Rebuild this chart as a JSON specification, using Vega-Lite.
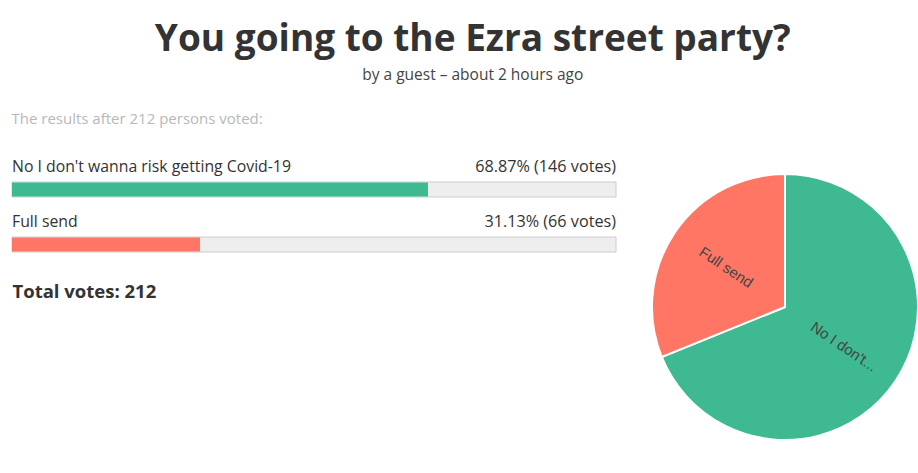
{
  "$schema": "https://vega.github.io/schema/vega-lite/v6.json",
  "padding": {"left": 11, "right": 0, "top": 20, "bottom": 0},
  "background": "#ffffff",
  "config": {"view": {"stroke": null}},
  "title": {
    "text": "You going to the Ezra street party?",
    "subtitle": "by a guest – about 2 hours ago",
    "anchor": "middle",
    "dx": 6,
    "font": "Open Sans",
    "fontSize": 37,
    "fontWeight": "bold",
    "color": "#333333",
    "subtitleFont": "Open Sans",
    "subtitleFontSize": 15.5,
    "subtitleColor": "#444444",
    "subtitlePadding": 9,
    "offset": 28
  },
  "data": {
    "values": [
      {"option": "No I don't wanna risk getting Covid-19", "short": "No I don't...", "pct": 68.87, "votes": 146},
      {"option": "Full send", "short": "Full send", "pct": 31.13, "votes": 66}
    ]
  },
  "spacing": 31,
  "hconcat": [
    {
      "width": 604,
      "height": 110,
      "title": {
        "text": "The results after 212 persons voted:",
        "anchor": "start",
        "font": "Open Sans",
        "fontSize": 15,
        "fontWeight": "normal",
        "color": "#b8b8b8",
        "offset": 28
      },
      "transform": [
        {"calculate": "format(datum.pct, '.2f') + '% (' + datum.votes + ' votes)'", "as": "result"}
      ],
      "encoding": {
        "y": {
          "field": "option",
          "type": "nominal",
          "sort": null,
          "axis": null,
          "scale": {"paddingInner": 0, "paddingOuter": 0}
        }
      },
      "layer": [
        {
          "mark": {"type": "bar", "fill": "#eeeeee", "stroke": "#cccccc", "strokeWidth": 1, "size": 15, "yOffset": 7},
          "encoding": {
            "x": {
              "datum": 0,
              "type": "quantitative",
              "scale": {"domain": [0, 100], "nice": false},
              "axis": {
                "title": "Total votes: 212",
                "domain": false,
                "ticks": false,
                "labels": false,
                "grid": false,
                "titleAnchor": "start",
                "titleFont": "Open Sans",
                "titleFontSize": 18.5,
                "titleFontWeight": "bold",
                "titleColor": "#333333",
                "titlePadding": 17
              }
            },
            "x2": {"datum": 100}
          }
        },
        {
          "mark": {"type": "bar", "size": 14, "yOffset": 7},
          "encoding": {
            "x": {"field": "pct", "type": "quantitative"},
            "color": {
              "field": "option",
              "type": "nominal",
              "scale": {
                "domain": ["No I don't wanna risk getting Covid-19", "Full send"],
                "range": ["#3eb991", "#ff7664"]
              },
              "legend": null
            }
          }
        },
        {
          "mark": {"type": "text", "align": "left", "baseline": "middle", "dy": -16, "font": "Open Sans", "fontSize": 15.8, "color": "#333333"},
          "encoding": {
            "x": {"datum": 0, "type": "quantitative"},
            "text": {"field": "option"}
          }
        },
        {
          "mark": {"type": "text", "align": "right", "baseline": "middle", "dy": -16, "font": "Open Sans", "fontSize": 16.2, "color": "#333333"},
          "encoding": {
            "x": {"datum": 100, "type": "quantitative"},
            "text": {"field": "result"}
          }
        }
      ]
    },
    {
      "width": 266,
      "height": 304,
      "layer": [
        {
          "mark": {"type": "arc", "radius": 133, "stroke": "#ffffff", "strokeWidth": 2},
          "encoding": {
            "theta": {"field": "votes", "type": "quantitative", "stack": true},
            "order": {"field": "votes", "sort": "descending"},
            "color": {"field": "option", "type": "nominal", "legend": null}
          }
        },
        {
          "mark": {"type": "text", "radius": 71, "angle": 34, "font": "Liberation Sans", "fontSize": 15, "color": "#444444", "baseline": "middle"},
          "encoding": {
            "theta": {"field": "votes", "type": "quantitative", "stack": true},
            "order": {"field": "votes", "sort": "descending"},
            "text": {"field": "short"}
          }
        }
      ]
    }
  ]
}
